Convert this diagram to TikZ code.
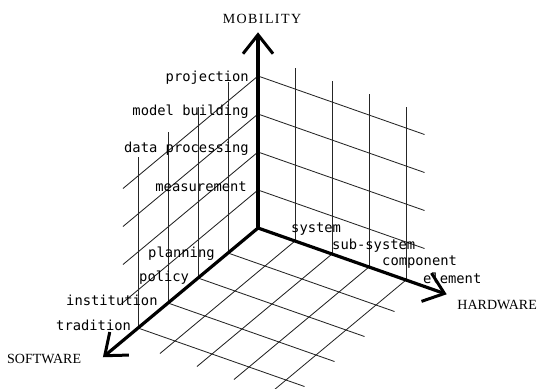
\documentclass[tikz,border=0pt]{standalone}
\usepackage{fontspec}
\setmainfont{Liberation Serif}
\newfontfamily\labelfont{DejaVu Sans Mono}
\usetikzlibrary{calc,arrows.meta}
\begin{document}
\begin{tikzpicture}[x=1pt,y=-1pt,
  grid/.style={line width=0.85pt, black!85},
  axis/.style={line width=3.2pt, line cap=round,
    -{Straight Barb[length=19pt,width=30pt,line width=3pt]}},
  ticklabel/.style={font=\labelfont\fontsize{13.8}{15}\selectfont, inner sep=0pt},
  axistitle/.style={font=\fontsize{14}{16}\selectfont, inner sep=0pt},
  widetitle/.style={axistitle, font=\fontsize{14}{16}\selectfont\addfontfeature{LetterSpace=10}}]
\clip (0,0) rectangle (537,388);

% origin and unit steps along the three axes
\coordinate (O) at (258,228);
\coordinate (hv) at (37,13);
\coordinate (sv) at (-30,25);
\coordinate (vv) at (0,-38);

\foreach \k in {1,...,4} {
  \coordinate (v\k) at ($(O)+\k*(vv)$);
  \coordinate (h\k) at ($(O)+\k*(hv)$);
  \coordinate (s\k) at ($(O)+\k*(sv)$);
}

% back wall (mobility x hardware)
\foreach \k in {1,...,4} {
  \draw[grid] (v\k) -- ($(v\k)+4.5*(hv)$);
  \draw[grid] (h\k) -- ($(h\k)+4.55*(vv)$);
}
% side wall (mobility x software)
\foreach \k in {1,...,4} {
  \draw[grid] (v\k) -- ($(v\k)+4.5*(sv)$);
  \draw[grid] (s\k) -- ($(s\k)+4.5*(vv)$);
}
% floor (software x hardware)
\foreach \k in {1,...,4} {
  \draw[grid] (s\k) -- ($(s\k)+4.5*(hv)$);
  \draw[grid] (h\k) -- ($(h\k)+4.5*(sv)$);
}

% axes
\coordinate (mtip) at ($(O)+5.15*(vv)$);
\coordinate (htip) at ($(O)+5.1*(hv)$);
\coordinate (stip) at ($(O)+5.17*(sv)$);
\draw[axis] (O) -- (mtip);
\draw[axis] (O) -- (htip);
\draw[axis] (O) -- (stip);

% axis titles
\node[widetitle, anchor=base] (mob) at (262,23) {MOBILITY};
\node[axistitle, anchor=base east] (hard) at (537,309) {HARDWARE};
\node[axistitle, anchor=base west] (soft) at (7,363) {SOFTWARE};

% mobility levels
\node[ticklabel, anchor=base east] (lproj) at (249,81) {projection};
\node[ticklabel, anchor=base east] (lmodel) at (249,115) {model building};
\node[ticklabel, anchor=base east] (ldata) at (249,152) {data processing};
\node[ticklabel, anchor=base east] (lmeas) at (247,191) {measurement};

% software levels
\node[ticklabel, anchor=base west] (lplan) at (148,257) {planning};
\node[ticklabel, anchor=base west] (lpol) at (139,281) {policy};
\node[ticklabel, anchor=base west] (linst) at (66,305) {institution};
\node[ticklabel, anchor=base west] (ltrad) at (56,330) {tradition};

% hardware levels
\node[ticklabel, anchor=base west] (lsys) at (291,232) {system};
\node[ticklabel, anchor=base west] (lsub) at (332,249) {sub-system};
\node[ticklabel, anchor=base west] (lcomp) at (382,265) {component};
\node[ticklabel, anchor=base west] (lelem) at (423,283) {element};
\end{tikzpicture}
\end{document}
